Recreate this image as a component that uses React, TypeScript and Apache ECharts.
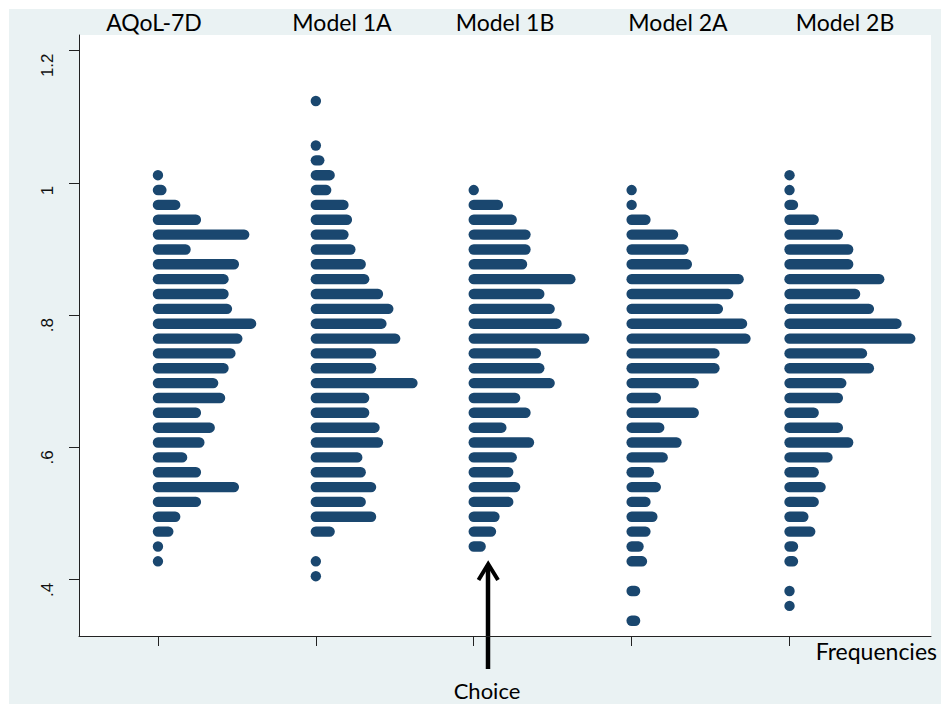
import React, { useEffect, useRef } from "react";
import * as echarts from "echarts";

// ---------- data ----------
const models = ["AQoL-7D", "Model 1A", "Model 1B", "Model 2A", "Model 2B"];

// bin centres of the dot plot (value of each dot row), top to bottom
const binValues = [
  1.1237, 1.1013, 1.0788, 1.0564, 1.0339, 1.0115, 0.989, 0.9666, 0.9441, 0.9217,
  0.8992, 0.8768, 0.8543, 0.8319, 0.8094, 0.787, 0.7645, 0.7421, 0.7196, 0.6972,
  0.6747, 0.6523, 0.6298, 0.6074, 0.5849, 0.5625, 0.54, 0.5176, 0.4951, 0.4727,
  0.4502, 0.4278, 0.4053, 0.3829, 0.3604, 0.338,
];

// number of dots in each bin, per model
const aqol7d = [0, 0, 0, 0, 0, 1, 2, 6, 12, 26, 9, 23, 20, 20, 21, 28, 24, 22, 20, 17, 19, 12, 16, 13, 8, 12, 23, 12, 6, 4, 1, 1, 0, 0, 0, 0];
const model1A = [1, 0, 0, 1, 2, 5, 4, 9, 10, 9, 11, 14, 15, 19, 22, 20, 24, 17, 17, 29, 15, 15, 18, 19, 13, 14, 17, 14, 17, 5, 0, 1, 1, 0, 0, 0];
const model1B = [0, 0, 0, 0, 0, 0, 1, 8, 12, 16, 16, 15, 29, 20, 23, 25, 33, 19, 20, 23, 13, 16, 9, 17, 12, 11, 13, 11, 7, 6, 3, 0, 0, 0, 0, 0];
const model2A = [0, 0, 0, 0, 0, 0, 1, 1, 5, 13, 16, 17, 32, 29, 26, 33, 34, 25, 25, 19, 8, 19, 9, 14, 10, 6, 8, 5, 7, 5, 3, 4, 0, 2, 0, 2];
const model2B = [0, 0, 0, 0, 0, 1, 1, 2, 8, 15, 18, 18, 27, 20, 24, 32, 36, 22, 24, 16, 15, 8, 15, 18, 12, 8, 10, 8, 5, 7, 2, 2, 0, 1, 1, 0];
const counts = [aqol7d, model1A, model1B, model2A, model2B];

const yTickValues = [0.4, 0.6, 0.8, 1.0, 1.2];
const yTickLabels = [".4", ".6", ".8", "1", "1.2"];
const xTickValues = [1, 2, 3, 4, 5];
const xAxisTitle = "Frequencies";
const arrowLabel = "Choice";

// ---------- style / scale constants ----------
const DOT_STEP = 0.02185; // x-offset of each additional dot (axis units)
const DOT_R = 5.2;
const DOT_COLOR = "#1a476f";
const BG = "#eaf2f3";
const AXIS_COLOR = "#222";
const TITLE_FONT = "Lato, 'Open Sans', sans-serif";

export default function App() {
  const ref = useRef<HTMLDivElement>(null);

  useEffect(() => {
    document.body.style.margin = "0";
    document.body.style.overflow = "hidden";
    if (!ref.current) return;
    const chart = echarts.init(ref.current, undefined, { renderer: "svg" });

    const data: number[][] = [];
    counts.forEach((arr, i) => {
      arr.forEach((n, k) => {
        if (n > 0) data.push([i + 1, binValues[k], n]);
      });
    });

    const renderItem = (_params: any, api: any) => {
      const col = api.value(0);
      const y = api.value(1);
      const n = api.value(2);
      const p0 = api.coord([col, y]);
      const p1 = api.coord([col + (n - 1) * DOT_STEP, y]);
      return {
        type: "rect",
        shape: {
          x: p0[0] - DOT_R,
          y: p0[1] - DOT_R,
          width: p1[0] - p0[0] + 2 * DOT_R,
          height: 2 * DOT_R,
          r: DOT_R,
        },
        style: { fill: DOT_COLOR },
      };
    };

    const titleCenters = [154, 342, 505, 678, 845];

    chart.setOption({
      animation: false,
      backgroundColor: BG,
      grid: {
        left: 79,
        right: 10,
        top: 35,
        bottom: 68,
        show: true,
        backgroundColor: "#ffffff",
        borderWidth: 0,
      },
      xAxis: {
        type: "value",
        min: 0.5,
        max: 5.896,
        axisLine: { show: true, onZero: false, lineStyle: { color: AXIS_COLOR, width: 1 } },
        axisTick: {
          show: true,
          customValues: xTickValues,
          length: 10,
          lineStyle: { color: AXIS_COLOR, width: 1 },
        },
        axisLabel: { show: false },
        splitLine: { show: false },
      },
      yAxis: {
        type: "value",
        min: 0.3149,
        max: 1.2234,
        axisLine: { show: true, onZero: false, lineStyle: { color: AXIS_COLOR, width: 1 } },
        axisTick: {
          show: true,
          customValues: yTickValues,
          length: 10,
          lineStyle: { color: AXIS_COLOR, width: 1 },
        },
        axisLabel: {
          show: true,
          customValues: yTickValues,
          rotate: 90,
          margin: 23,
          align: "right",
          padding: [0, 3, 0, 0],
          fontFamily: "'Liberation Sans', Arial, sans-serif",
          fontSize: 17,
          color: "#111",
          formatter: (v: number) => {
            const i = yTickValues.findIndex((t) => Math.abs(t - v) < 1e-6);
            return i >= 0 ? yTickLabels[i] : "";
          },
        },
        splitLine: { show: false },
      },
      series: [
        {
          type: "custom",
          renderItem,
          data,
          clip: false,
          encode: { x: 0, y: 1 },
        },
      ],
      graphic: [
        { type: "rect", left: 0, top: 0, shape: { width: 941, height: 9 }, style: { fill: "#ffffff" }, silent: true },
        { type: "rect", left: 0, top: 0, shape: { width: 9, height: 704 }, style: { fill: "#ffffff" }, silent: true },
        ...models.map((m, i) => ({
          type: "text",
          x: titleCenters[i],
          y: 22,
          style: {
            text: m,
            fill: "#000",
            font: `23px ${TITLE_FONT}`,
            textAlign: "center",
            textVerticalAlign: "middle",
          },
        })),
        {
          type: "text",
          x: 937,
          y: 651,
          style: {
            text: xAxisTitle,
            fill: "#000",
            font: `23px ${TITLE_FONT}`,
            textAlign: "right",
            textVerticalAlign: "middle",
          },
        },
        {
          type: "text",
          x: 487,
          y: 690,
          style: {
            text: arrowLabel,
            fill: "#000",
            font: `22px ${TITLE_FONT}`,
            textAlign: "center",
            textVerticalAlign: "middle",
          },
        },
        {
          type: "line",
          shape: { x1: 488, y1: 669, x2: 488, y2: 565 },
          style: { stroke: "#000", lineWidth: 4.5 },
        },
        {
          type: "polyline",
          shape: { points: [[478.5, 580], [488.2, 564], [498, 580]] },
          style: { stroke: "#000", lineWidth: 4, fill: "none", lineJoin: "miter" },
        },
      ],
    });

    return () => chart.dispose();
  }, []);

  return <div ref={ref} style={{ width: 941, height: 704 }} />;
}
